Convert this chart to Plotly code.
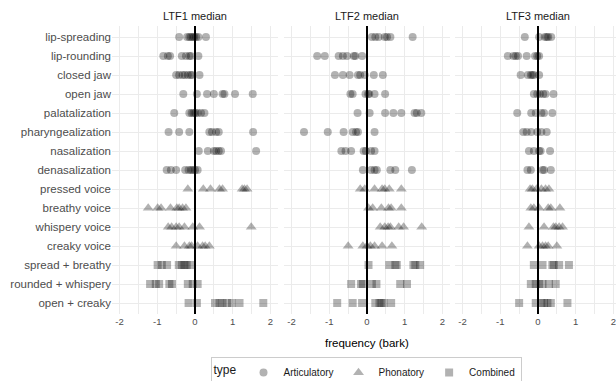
import plotly.graph_objects as go

categories = ["lip-spreading", "lip-rounding", "closed jaw", "open jaw", "palatalization",
              "pharyngealization", "nasalization", "denasalization", "pressed voice",
              "breathy voice", "whispery voice", "creaky voice", "spread + breathy",
              "rounded + whispery", "open + creaky"]
category_type = ["Articulatory"] * 8 + ["Phonatory"] * 4 + ["Combined"] * 3
types = ["Articulatory", "Phonatory", "Combined"]
panels = ["LTF1 median", "LTF2 median", "LTF3 median"]
tick_vals = [-2, -1, 0, 1, 2]
tick_text = ["-2", "-1", "0", "1", "2"]

ltf1 = [
    [-0.42, -0.21, -0.15, -0.11, -0.06, -0.02, 0.03, 0.09, 0.29],
    [-0.84, -0.72, -0.66, -0.35, -0.24, -0.15, -0.11, 0.09],
    [-0.50, -0.42, -0.33, -0.27, -0.19, -0.12, -0.08, 0.12],
    [-0.31, 0.05, 0.32, 0.50, 0.73, 0.78, 1.06, 1.53],
    [-0.55, -0.15, -0.09, -0.04, 0.01, 0.07, 0.16, 0.25],
    [-0.70, -0.42, -0.15, 0.38, 0.45, 0.56, 0.63, 1.54],
    [0.10, 0.34, 0.50, 0.56, 0.63, 0.69, 1.62],
    [-0.75, -0.64, -0.50, -0.26, -0.17, -0.11, -0.06, 0.00, 0.07],
    [-0.19, 0.22, 0.41, 0.65, 0.73, 1.25, 1.31, 1.38],
    [-1.24, -0.99, -0.90, -0.65, -0.48, -0.42, -0.33, -0.24],
    [-0.71, -0.62, -0.50, -0.42, -0.28, -0.06, 0.12, 1.49],
    [-0.50, -0.28, -0.15, -0.09, 0.07, 0.20, 0.27, 0.38],
    [-0.99, -0.88, -0.74, -0.43, -0.35, -0.28, -0.22, -0.13],
    [-1.19, -1.04, -0.95, -0.68, -0.61, -0.19, -0.06, 0.07],
    [-0.17, 0.05, 0.53, 0.65, 0.73, 0.85, 0.98, 1.18, 1.81],
]

ltf2 = [
    [0.13, 0.22, 0.31, 0.47, 0.53, 0.62, 1.21],
    [-1.32, -1.12, -0.75, -0.64, -0.53, -0.35, -0.31, -0.13],
    [-0.85, -0.64, -0.46, -0.24, -0.18, -0.06, 0.18, 0.42],
    [-0.44, -0.38, -0.04, 0.03, 0.06, 0.20, 0.48],
    [-0.25, 0.07, 0.48, 0.70, 0.91, 1.26, 1.32, 1.44],
    [-1.67, -1.04, -0.62, -0.38, -0.29, -0.24, 0.20],
    [-0.68, -0.57, -0.42, -0.09, -0.03, 0.11, 0.20],
    [-0.11, 0.11, 0.20, 0.26, 0.62, 0.75, 1.19],
    [-0.18, -0.06, 0.20, 0.40, 0.47, 0.59, 0.91],
    [0.04, 0.15, 0.38, 0.57, 0.64, 0.91],
    [0.35, 0.47, 0.56, 0.62, 0.84, 0.97, 1.45],
    [-0.50, -0.11, 0.00, 0.09, 0.20, 0.40, 0.66],
    [0.04, 0.59, 0.75, 0.79, 1.23, 1.28, 1.41],
    [-0.42, -0.16, -0.11, 0.13, 0.25, 0.88, 1.06],
    [-0.79, -0.38, -0.13, 0.22, 0.33, 0.38, 0.44, 0.64],
]

ltf3 = [
    [-0.35, 0.03, 0.18, 0.23, 0.27, 0.35],
    [-0.80, -0.65, -0.59, -0.53, -0.30, -0.08, -0.02, 0.03],
    [-0.46, -0.27, -0.19, -0.15, -0.11, 0.03],
    [-0.11, -0.02, 0.05, 0.14, 0.20, 0.41],
    [-0.55, -0.18, -0.06, 0.09, 0.16, 0.38],
    [-0.39, -0.30, -0.18, -0.02, 0.09, 0.23],
    [-0.24, -0.11, 0.03, 0.07, 0.32],
    [-0.28, -0.19, 0.12, 0.16, 0.34],
    [-0.21, -0.15, -0.04, 0.09, 0.20, 0.29],
    [-0.19, -0.11, 0.03, 0.27, 0.34, 0.58],
    [-0.24, 0.16, 0.41, 0.47, 0.56, 0.65],
    [-0.28, 0.03, 0.12, 0.20, 0.27, 0.50],
    [-0.11, 0.12, 0.38, 0.42, 0.56, 0.82],
    [-0.19, -0.06, 0.03, 0.12, 0.29, 0.47],
    [-0.50, -0.06, 0.09, 0.16, 0.25, 0.34, 0.78],
]

panel_data = [ltf1, ltf2, ltf3]
symbols = {"Articulatory": "circle", "Phonatory": "triangle-up", "Combined": "square"}
sizes = {"Articulatory": 8, "Phonatory": 9.5, "Combined": 8}

W, H = 616, 381
FONT = "Liberation Sans, Arial, sans-serif"
x_domains = [(112 / W, 278 / W), (284 / W, 450 / W), (455 / W, 1.0)]
x_ranges = [[-2.2, 2.2], [-2.2, 2.2], [-2.2, 2.2 - 5 / 37.7]]
y_domain = (1 - 314.4 / H, 1 - 25.6 / H)

fig = go.Figure()
for p, data in enumerate(panel_data):
    suffix = "" if p == 0 else str(p + 1)
    for t in types:
        xs, ys = [], []
        for cat, ctype, vals in zip(categories, category_type, data):
            if ctype == t:
                xs.extend(vals)
                ys.extend([cat] * len(vals))
        fig.add_trace(go.Scatter(
            x=xs, y=ys, mode="markers", name=t, legendgroup=t,
            showlegend=(p == 0),
            xaxis="x" + suffix, yaxis="y" + suffix,
            marker=dict(symbol=symbols[t], size=sizes[t], color="black",
                        opacity=0.3, line=dict(width=0)),
            hoverinfo="skip",
        ))

grid_color = "#ebebeb"
layout = dict(
    width=W, height=H,
    margin=dict(l=0, r=0, t=0, b=0, autoexpand=False),
    paper_bgcolor="white", plot_bgcolor="white",
    font=dict(family=FONT, color="#4d4d4d"),
    showlegend=True,
    legend=dict(
        orientation="h", x=366 / W, xanchor="center", y=1 - 357 / H, yanchor="top",
        bordercolor="#cccccc", borderwidth=1, bgcolor="white",
        font=dict(size=10, color="#1a1a1a", family=FONT),
        title=dict(text="type", side="left", font=dict(size=12, color="#1a1a1a", family=FONT)),
        itemsizing="trace", itemwidth=30,
    ),
)

for p in range(3):
    suffix = "" if p == 0 else str(p + 1)
    layout["xaxis" + suffix] = dict(
        domain=list(x_domains[p]), range=x_ranges[p], anchor="y" + suffix,
        tickvals=tick_vals, ticktext=tick_text, ticks="",
        tickfont=dict(size=9.5, color="#4d4d4d", family=FONT),
        ticklabeloverflow="allow",
        showgrid=True, gridcolor=grid_color, gridwidth=1.1,
        minor=dict(tickvals=[-1.5, -0.5, 0.5, 1.5], showgrid=True,
                   gridcolor=grid_color, gridwidth=1.1),
        zeroline=True, zerolinecolor="black", zerolinewidth=1.5,
        showline=False, fixedrange=True,
    )
    layout["yaxis" + suffix] = dict(
        domain=list(y_domain), anchor="x" + suffix,
        type="category", categoryorder="array", categoryarray=categories,
        range=[len(categories) - 1 + 0.6, -0.6],
        showticklabels=(p == 0), ticks="",
        tickfont=dict(size=11.5, color="#4d4d4d", family=FONT),
        showgrid=True, gridcolor=grid_color, gridwidth=1.1,
        zeroline=False, showline=False, fixedrange=True,
    )

annotations = []
for p, title in enumerate(panels):
    suffix = "" if p == 0 else str(p + 1)
    annotations.append(dict(
        text=title, x=0, xref="x" + suffix, y=1 - 16 / H, yref="paper",
        xanchor="center", yanchor="middle", showarrow=False,
        font=dict(size=11, color="#1a1a1a", family=FONT),
    ))
annotations.append(dict(
    text="frequency (bark)", x=0, xref="x2", y=1 - 343 / H, yref="paper",
    xanchor="center", yanchor="middle", showarrow=False,
    font=dict(size=11.5, color="black", family=FONT),
))
layout["annotations"] = annotations

fig.update_layout(**layout)
fig.write_html("out.html")
